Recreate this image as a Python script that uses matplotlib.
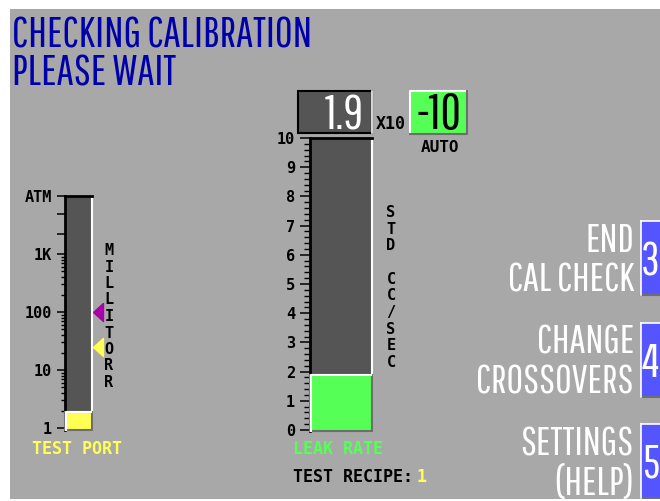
import matplotlib.pyplot as plt
from matplotlib import font_manager
from matplotlib.patches import Rectangle
import numpy as np

# Данные экрана
title_lines = ["CHECKING CALIBRATION", "PLEASE WAIT"]
leak_mantissa = 1.9
leak_exponent = -10
leak_range = "AUTO"
leak_ticks = list(range(0, 11))
leak_units = ["S", "T", "D", "", "C", "C", "/", "S", "E", "C"]
port_pressure = 1.9                 # millitorr
port_marks = [100, 25]              # crossover marks
port_ticks = [1, 10, 100, 1000, 1e4, 1e5, 760000]
port_tick_labels = ["1", "10", "100", "1K", "", "", "ATM"]
port_units = "MILLITORR"
menu_keys = ["3", "4", "5"]
menu_labels = [["END", "CAL CHECK"], ["CHANGE", "CROSSOVERS"], ["SETTINGS", "(HELP)"]]
test_recipe = 1

# Цвета (палитра VGA)
GRAY = "#a8a8a8"
DARK = "#555555"
SHADE = "#6e6e6e"
TBLUE = "#0000aa"
GREEN = "#55ff55"
YELLOW = "#ffff55"
PURPLE = "#aa00aa"
KEYBLUE = "#5555ff"
mark_colors = [PURPLE, YELLOW]

# Узкий шрифт, если есть; иначе DejaVu Sans поменьше
have = {f.name for f in font_manager.fontManager.ttflist}
if "Pathway Gothic One" in have:
    BIG = ["Pathway Gothic One", "DejaVu Sans"]
    fs = 1.0
else:
    BIG = ["DejaVu Sans"]
    fs = 0.55
MONO = "DejaVu Sans Mono"

W, H = 660, 501


def px(x0, y0, x1, y1):
    return [x0 / W, 1 - y1 / H, (x1 - x0) / W, (y1 - y0) / H]


fig = plt.figure(figsize=(6.6, 5.01), dpi=100, facecolor="white")

# Фон
bg = fig.add_axes(px(10, 9, 660, 499))
bg.set_xlim(10, 660)
bg.set_ylim(499, 9)
bg.set_facecolor(GRAY)
bg.set_xticks([])
bg.set_yticks([])
for s in bg.spines.values():
    s.set_visible(False)

# Заголовок
bg.text(12, 47, title_lines[0], color=TBLUE, fontsize=31 * fs, family=BIG)
bg.text(12, 86, title_lines[1], color=TBLUE, fontsize=31 * fs, family=BIG)

# Шкала давления (логарифмическая, выше 1K сжатая)
K = 0.345


def fwd(v):
    l = np.log10(np.maximum(v, 1e-12))
    return np.where(l <= 3, l, 3 + (l - 3) * K)


def inv(y):
    return np.where(y <= 3, 10.0 ** y, 10.0 ** (3 + (y - 3) / K))


pax = fig.add_axes(px(65, 196, 92, 430))
pax.set_facecolor(DARK)
pax.set_yscale("function", functions=(fwd, inv))
p_lo = float(inv(-2 / 58))
p_hi = float(inv(232 / 58))
pax.set_ylim(p_lo, p_hi)
pax.set_xlim(0, 1)
pax.set_xticks([])
pax.set_yticks(port_ticks, port_tick_labels)
minor = [m * 10 ** d for d in range(3) for m in range(2, 10)]
pax.set_yticks(minor, [""] * len(minor), minor=True)
pax.tick_params(axis="y", which="major", length=6, width=1.1, pad=3.5,
                labelsize=11, labelfontfamily=MONO)
pax.tick_params(axis="y", which="minor", length=3, width=1.0)
for t in pax.get_yticklabels():
    t.set_fontweight("bold")
pax.spines["left"].set_linewidth(2)
pax.spines["top"].set_linewidth(2)
pax.spines["right"].set_color("white")
pax.spines["right"].set_linewidth(1.5)
pax.spines["bottom"].set_visible(False)

pax.bar(0.5, port_pressure - p_lo, bottom=p_lo, width=1.0, color=YELLOW,
        edgecolor=SHADE, linewidth=1.5, zorder=3, clip_on=False)
pax.plot([0.02, 0.02, 0.98], [p_lo, port_pressure, port_pressure],
         color="white", lw=1.5, zorder=4, clip_on=False)

tri = [(0.55, 1), (-0.55, 0), (0.55, -1), (0.55, 1)]
for v, c in zip(port_marks, mark_colors):
    pax.plot(1.22, v, marker=tri, ms=13, color=c, ls="none", clip_on=False)

for i, ch in enumerate(port_units):
    bg.text(109, 255 + i * 16.5, ch, fontsize=11, family=MONO, weight="bold",
            ha="center", color="black")
bg.text(77, 454, "TEST PORT", fontsize=12, family=MONO, weight="bold",
        ha="center", color=YELLOW)

# Шкала утечки
lax = fig.add_axes(px(310, 138, 372, 431))
lax.set_facecolor(DARK)
l_lo = -1 / 29.2
lax.set_ylim(l_lo, 10)
lax.set_xlim(0, 1)
lax.set_xticks([])
lax.set_yticks(leak_ticks)
lax.set_yticks(np.arange(0, 10.01, 0.2), minor=True)
lax.tick_params(axis="y", which="major", length=7.2, width=1.1, pad=3.6,
                labelsize=11, labelfontfamily=MONO)
lax.tick_params(axis="y", which="minor", length=4.3, width=1.0)
for t in lax.get_yticklabels():
    t.set_fontweight("bold")
lax.spines["left"].set_linewidth(2)
lax.spines["top"].set_linewidth(2)
lax.spines["right"].set_color("white")
lax.spines["right"].set_linewidth(1.5)
lax.spines["bottom"].set_visible(False)

lax.bar(0.5, leak_mantissa - l_lo, bottom=l_lo, width=1.0, color=GREEN,
        edgecolor=SHADE, linewidth=1.5, zorder=3, clip_on=False)
lax.plot([0.01, 0.01, 0.99], [l_lo, leak_mantissa, leak_mantissa],
         color="white", lw=1.5, zorder=4, clip_on=False)

for i, ch in enumerate(leak_units):
    bg.text(391, 217 + i * 16.67, ch, fontsize=11, family=MONO, weight="bold",
            ha="center", color="black")

# Показание
bg.add_patch(Rectangle((298, 91), 74, 42, facecolor=DARK, edgecolor="black", lw=1.5))
bg.plot([372, 372], [91, 133], color="white", lw=1.2)
bg.text(364, 129, f"{leak_mantissa:.1f}", fontsize=35 * fs, family=BIG, color="white", ha="right")
bg.text(376, 129, "X10", fontsize=12, family=MONO, weight="bold", color="black")
bg.add_patch(Rectangle((410, 91), 57, 43, facecolor=GREEN, edgecolor="none"))
bg.plot([410, 410, 467], [134, 91, 91], color="white", lw=1.5)
bg.plot([410, 467, 467], [134, 134, 91], color=SHADE, lw=1.5)
bg.text(439, 129, f"{leak_exponent}", fontsize=36 * fs, family=BIG, color="black", ha="center")
bg.text(440, 152, leak_range, fontsize=11.5, family=MONO, weight="bold",
        color="black", ha="center")

bg.text(293, 454, "LEAK RATE", fontsize=12, family=MONO, weight="bold", color=GREEN)
bg.text(293, 482, "TEST RECIPE:", fontsize=12, family=MONO, weight="bold", color="black")
bg.text(417, 482, str(test_recipe), fontsize=12, family=MONO, weight="bold", color=YELLOW)

# Меню
key_tops = [221, 323, 424]
for key, lines, y0 in zip(menu_keys, menu_labels, key_tops):
    bg.add_patch(Rectangle((641, y0), 19, 74, facecolor=KEYBLUE, edgecolor="none"))
    bg.plot([641, 660], [y0, y0], color="white", lw=1.2)
    bg.plot([641, 660], [y0 + 74, y0 + 74], color=SHADE, lw=1.5)
    bg.plot([641, 641], [y0, y0 + 74], color="white", lw=1.2)
    bg.text(650.5, y0 + 54, key, fontsize=33 * fs, family=BIG, color="white", ha="center")
    bg.text(634, y0 + 31, lines[0], fontsize=29 * fs, family=BIG, color="white", ha="right")
    bg.text(634, y0 + 71, lines[1], fontsize=29 * fs, family=BIG, color="white", ha="right")

fig.savefig("out.png", dpi=100, facecolor="white")
